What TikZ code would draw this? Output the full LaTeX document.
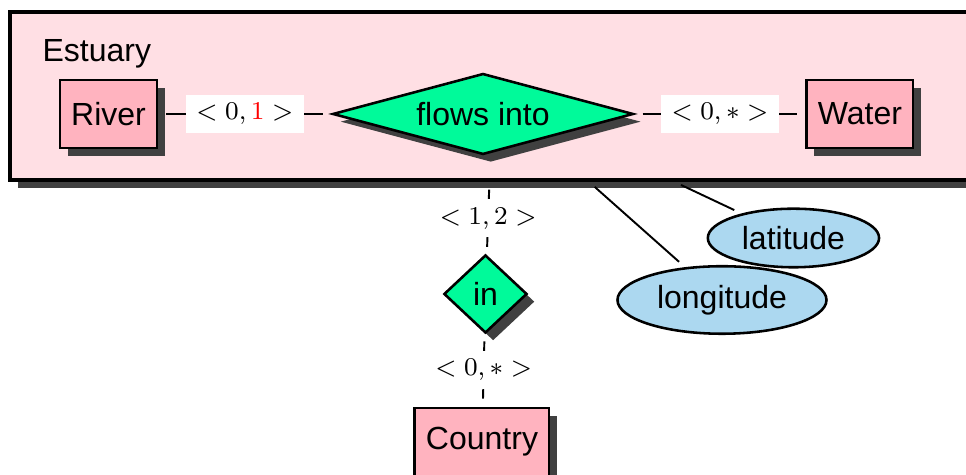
\documentclass[tikz,border=0pt]{standalone}
\usepackage[no-math]{fontspec}
\setmainfont{Liberation Sans}
\usetikzlibrary{
  shapes.geometric,
  shadows,
}
\definecolor{aggfill}{RGB}{255,223,228}
\definecolor{entfill}{RGB}{255,179,191}
\definecolor{relfill}{RGB}{0,250,154}
\definecolor{attfill}{RGB}{172,216,240}

\begin{document}
\begin{tikzpicture}[
  shade/.style={drop shadow={opacity=1, fill=black!75, shadow xshift=2.4pt, shadow yshift=-2.4pt}},
  entity/.style={draw, thick, fill=entfill, minimum height=21.3pt, inner xsep=3.5pt, shade},
  relation/.style={diamond, draw, thick, fill=relfill, inner sep=0pt, shade},
  attrib/.style={ellipse, draw, thick, fill=attfill, inner sep=2.8pt},
  link/.style={semithick, shorten <=2.5pt, shorten >=2.5pt},
  card/.style={fill=white, font=\footnotesize, inner xsep=3.3pt, inner ysep=2.6pt},
]
\useasboundingbox (0,0) rectangle (10.61,-5.217);
\node[draw, line width=1pt, fill=aggfill, minimum width=10.6cm, minimum height=1.845cm, shade] (estuary) at (5.409,-1.054) {};
\node[anchor=base west, inner sep=0pt] (estuarytitle) at (0.461,-0.681) {Estuary};
\node[entity] (river) at (1.192,-1.252) {River};
\node[relation, aspect=3.7, minimum width=94pt, minimum height=25.3pt] (flows) at (5.305,-1.252) {flows into};
\node[entity] (water) at (9.445,-1.252) {Water};
\node[relation, minimum width=26pt, minimum height=24.4pt] (in) at (5.332,-3.229) {in};
\node[entity] (country) at (5.294,-4.854) {Country};
\node[attrib] (latitude) at (8.715,-2.614) {latitude};
\node[attrib] (longitude) at (7.930,-3.295) {longitude};

\draw[link] (river) -- node[card] {$<0,\textcolor{red}{1}>$} (flows);
\draw[link] (flows) -- node[card] {$<0,*>$} (water);
\draw[link] (estuary) -- node[card] {$<1,2>$} (in);
\draw[link] (in) -- node[card] {$<0,*>$} (country);
\draw[link] (estuary) -- (latitude);
\draw[link] (estuary) -- (longitude);
\end{tikzpicture}
\end{document}
